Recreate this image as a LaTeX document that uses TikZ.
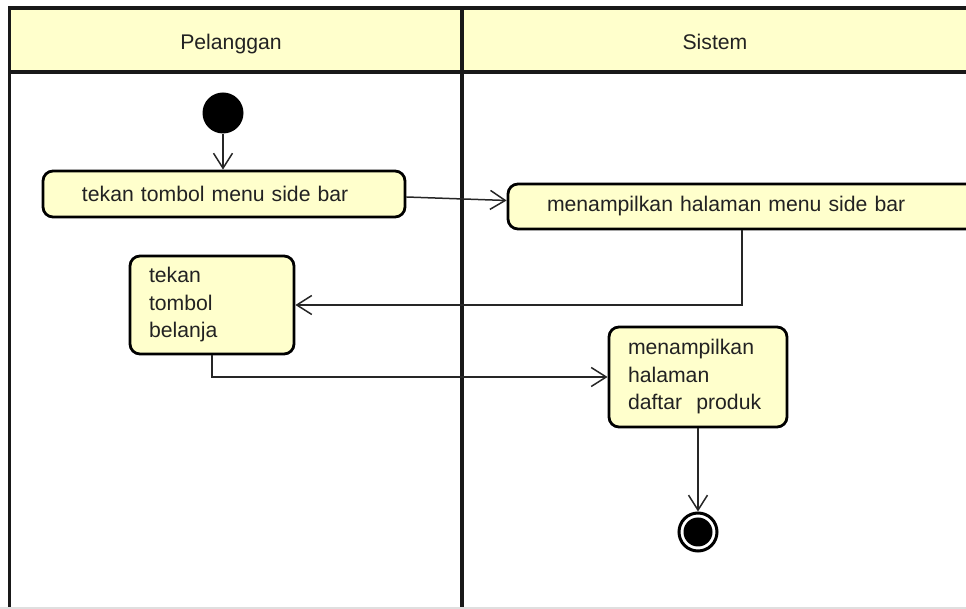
\documentclass[tikz,border=0pt]{standalone}
\usepackage{fontspec}
\setmainfont{Liberation Sans}
\usetikzlibrary{arrows.meta,positioning}
\definecolor{laneyellow}{HTML}{FFFFCC}
\definecolor{inkgray}{HTML}{222222}
\begin{document}
\begin{tikzpicture}[x=0.5pt,y=-0.5pt,
    font=\fontsize{10.6pt}{13.75pt}\selectfont, text=inkgray,
    lane/.style={line width=1.8pt, black!90},
    action/.style={draw, line width=1.4pt, rounded corners=5pt, fill=laneyellow, inner sep=0pt, align=left},
    flow/.style={line width=0.75pt, black!85, -{Straight Barb[length=7.5pt,width=9.5pt,line width=0.75pt]}}]
        \clip (0,0) rectangle (966,609);
        % swimlanes
        \fill[laneyellow] (9.5,8) rectangle (990,72);
        \draw[lane] (9.5,620) -- (9.5,8) -- (990,8);
        \draw[lane] (9.5,72) -- (990,72);
        \draw[lane] (462,8) -- (462,620);
        \draw[gray!25, line width=1pt] (0,608.5) -- (966,608.5);
        \node[anchor=base] (pelanggan) at (231,49.5) {Pelanggan};
        \node[anchor=base] (sistem) at (715,49.5) {Sistem};
        % activities
        \node[circle, fill=black, minimum size=20.5pt, inner sep=0pt] (start) at (223,113) {};
        \node[action, minimum width=181pt, minimum height=23pt, text width=142pt] (tekanMenu) at (224,194) {tekan tombol menu side bar};
        \node[action, minimum width=246pt, minimum height=22.5pt, text width=207pt] (tampilMenu) at (754,206.5) {menampilkan halaman menu side bar};
        \node[action, minimum width=82pt, minimum height=49pt, text width=63pt] (tekanBelanja) at (212,305) {tekan\\tombol\\belanja};
        \node[action, minimum width=89pt, minimum height=50pt, text width=70pt] (tampilProduk) at (698,377) {menampilkan\\halaman\\daftar\ \ produk};
        \node[circle, draw=black, line width=1.5pt, minimum size=19pt, inner sep=0pt] (end) at (698,532) {};
        \fill[black] (end.center) circle [radius=7.25pt];
        % flows
        \coordinate (turnA) at (742,305);
        \draw[flow] (start) -- (start |- tekanMenu.north);
        \draw[flow] ([yshift=-1.5pt]tekanMenu.east) -- ([yshift=3pt]tampilMenu.west);
        \draw[flow] (turnA |- tampilMenu.south) -- (turnA) -- (tekanBelanja.east);
        \draw[flow] (tekanBelanja.south) -- (tekanBelanja.south |- tampilProduk.west) -- (tampilProduk.west);
        \draw[flow] (tampilProduk.south) -- (end.north);
    \end{tikzpicture}
\end{document}
